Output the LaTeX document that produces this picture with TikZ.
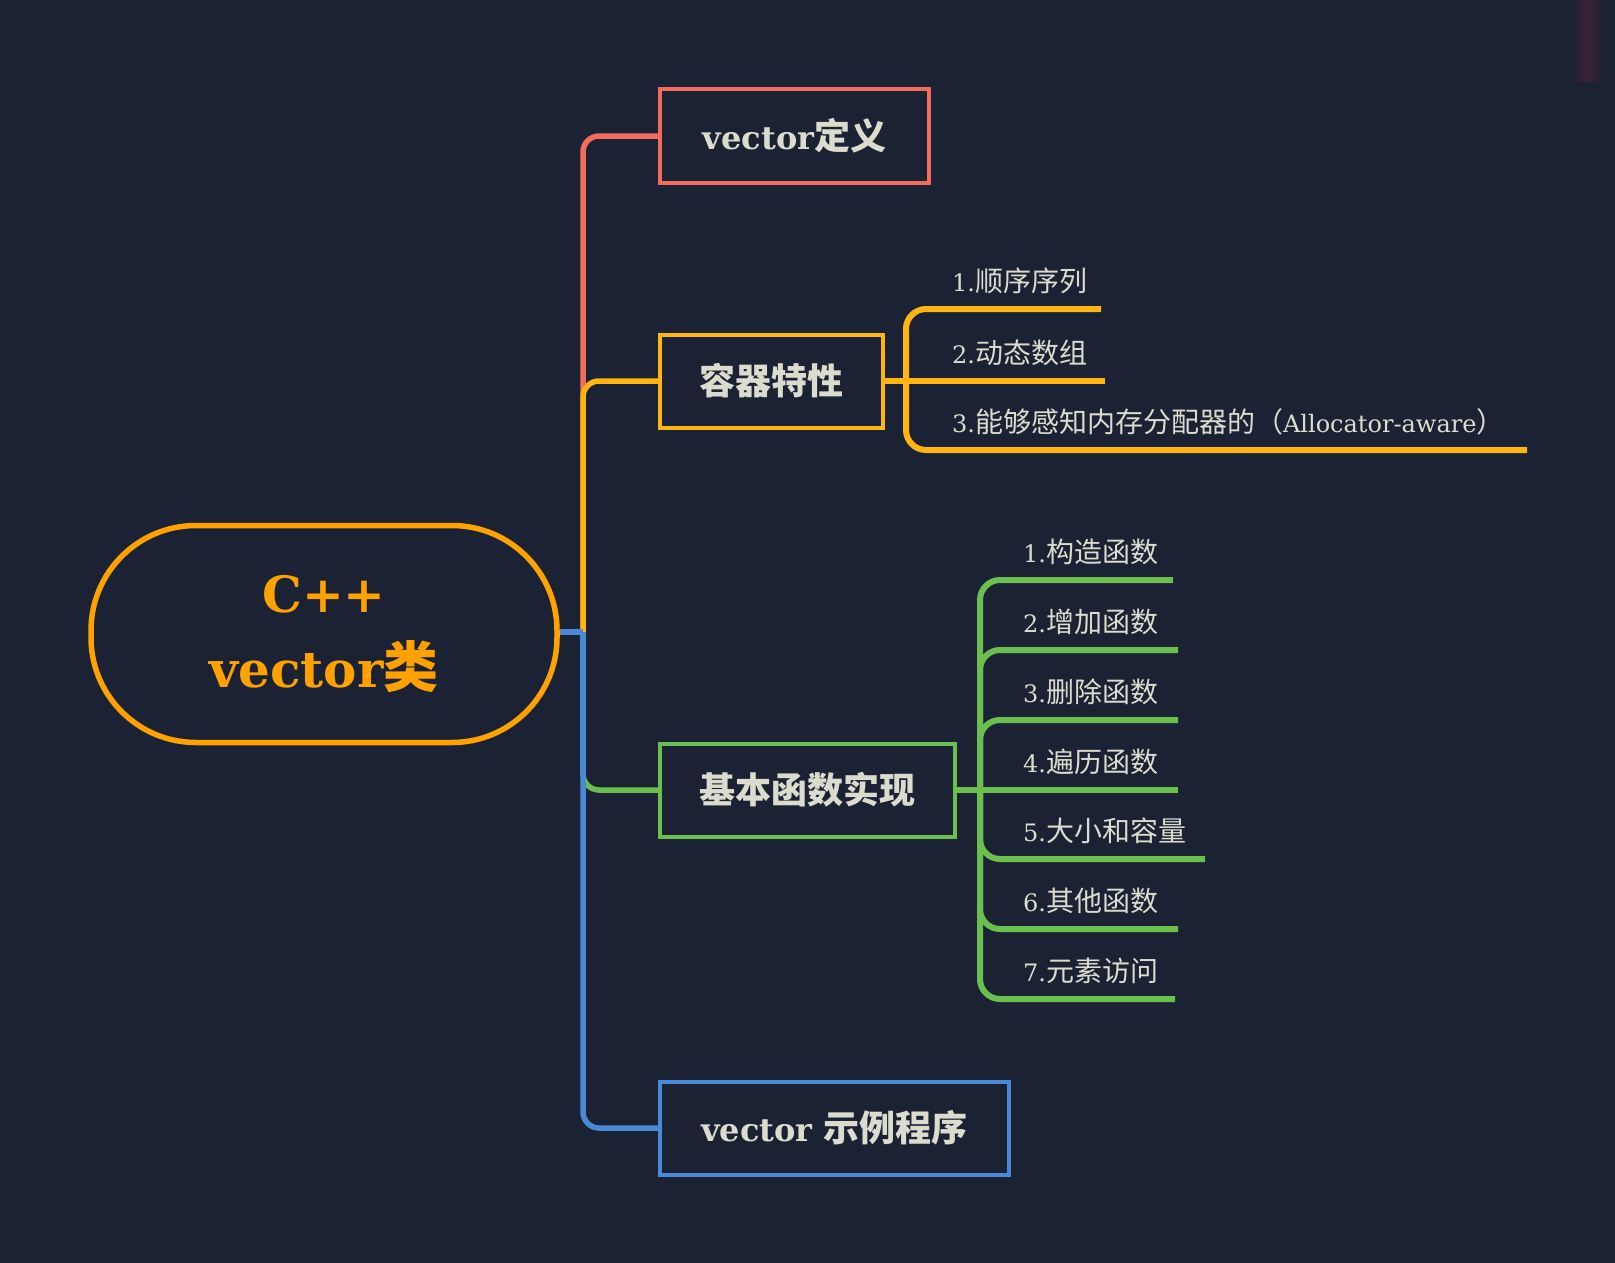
\documentclass[tikz,border=0pt]{standalone}
\usepackage{fontspec}
\setmainfont{DejaVu Serif}
\newfontfamily\cjk{Noto Sans CJK SC}
\definecolor{bg}{HTML}{1B2234}
\definecolor{redc}{HTML}{F26B5B}
\definecolor{yelc}{HTML}{FFB412}
\definecolor{rootc}{HTML}{FFA200}
\definecolor{grnc}{HTML}{6BBF4E}
\definecolor{bluc}{HTML}{4A88D8}
\definecolor{txt}{HTML}{DCDCCE}
\definecolor{bandc}{HTML}{3A2236}
\newcommand\mylat[2]{{\fontsize{#1}{#1}\selectfont #2}}
\newcommand\mycjk[2]{{\fontsize{#1}{#1}\selectfont\cjk #2}}
\newcommand\itm[2]{\mylat{24}{#1}\mycjk{28}{#2}}
\begin{document}
\begin{tikzpicture}[x=1pt,y=-1pt,
  mainbox/.style={draw, line width=4pt, minimum height=93pt, anchor=west, inner sep=0pt, text=txt, fill=bg},
  trunkline/.style={line width=5.5pt, rounded corners=16pt},
  leafline/.style={line width=6pt, rounded corners=20pt},
  itemtext/.style={anchor=base west, text=txt, inner sep=0pt}]
\fill[bg] (0,0) rectangle (1615,1263);
\useasboundingbox (0,0) rectangle (1615,1263);
\shade[left color=bg, right color=bg, middle color=bandc] (1570,0) rectangle (1604,82);

% root
\node[draw=rootc, line width=5.5pt, rounded corners=105pt, minimum width=466pt, minimum height=217pt,
      align=center, text=rootc, font=\bfseries, fill=bg] (root) at (324,634)
  {{\fontsize{50}{60}\selectfont C++}\\[26pt]{\fontsize{50}{60}\selectfont vector}{\fontsize{55}{60}\selectfont\cjk 类}};

% main boxes
\node[mainbox, draw=redc, minimum width=269pt] (def) at (658,136) {\bfseries\mylat{32}{vector}\mycjk{36}{定义}};
\node[mainbox, draw=yelc, minimum width=223pt] (feat) at (658,381) {\bfseries\mycjk{36}{容器特性}};
\node[mainbox, draw=grnc, minimum width=295pt] (func) at (658,790) {\bfseries\mycjk{36}{基本函数实现}};
\node[mainbox, draw=bluc, minimum width=349pt] (demo) at (658,1128) {\bfseries\mylat{32}{vector }\mycjk{36}{示例程序}};

% trunk
\coordinate (trunk) at (583,632);
\draw[trunkline, redc] (trunk) |- (def.west);
\draw[trunkline, yelc] (trunk) |- (feat.west);
\draw[trunkline, grnc] (trunk) |- (func.west);
\draw[trunkline, bluc] (trunk) |- (demo.west);
\draw[line width=5.5pt, bluc] (root.east |- trunk) -- (trunk);

% features children
\coordinate (fj) at (906,381);
\coordinate (f1e) at (1101,309);
\coordinate (f2e) at (1105,381);
\coordinate (f3e) at (1527,450);
\draw[leafline, yelc] (feat.east) -- (fj);
\draw[leafline, yelc] (fj) |- (f1e);
\draw[leafline, yelc] (fj) -- (f2e);
\draw[leafline, yelc] (fj) |- (f3e);
\node[itemtext] (f1) at (952,291) {\itm{1.}{顺序序列}};
\node[itemtext] (f2) at (952,363) {\itm{2.}{动态数组}};
\node[itemtext] (f3) at (952,432) {\mylat{24}{3.}\mycjk{28}{能够感知内存分配器的（}\mylat{24}{Allocator-aware}\mycjk{28}{）}};

% function children
\coordinate (gj) at (980,790);
\draw[leafline, grnc] (func.east) -- (gj);
\coordinate (g1e) at (1173,580);
\coordinate (g2e) at (1178,650);
\coordinate (g3e) at (1178,720);
\coordinate (g4e) at (1178,790);
\coordinate (g5e) at (1205,859);
\coordinate (g6e) at (1178,929);
\coordinate (g7e) at (1175,999);
\draw[leafline, grnc] (gj) |- (g1e);
\draw[leafline, grnc] (gj) |- (g2e);
\draw[leafline, grnc] (gj) |- (g3e);
\draw[leafline, grnc] (gj) -- (g4e);
\draw[leafline, grnc] (gj) |- (g5e);
\draw[leafline, grnc] (gj) |- (g6e);
\draw[leafline, grnc] (gj) |- (g7e);
\node[itemtext] (g1) at (1023,562) {\itm{1.}{构造函数}};
\node[itemtext] (g2) at (1023,632) {\itm{2.}{增加函数}};
\node[itemtext] (g3) at (1023,702) {\itm{3.}{删除函数}};
\node[itemtext] (g4) at (1023,772) {\itm{4.}{遍历函数}};
\node[itemtext] (g5) at (1023,841) {\itm{5.}{大小和容量}};
\node[itemtext] (g6) at (1023,911) {\itm{6.}{其他函数}};
\node[itemtext] (g7) at (1023,981) {\itm{7.}{元素访问}};
\end{tikzpicture}
\end{document}
